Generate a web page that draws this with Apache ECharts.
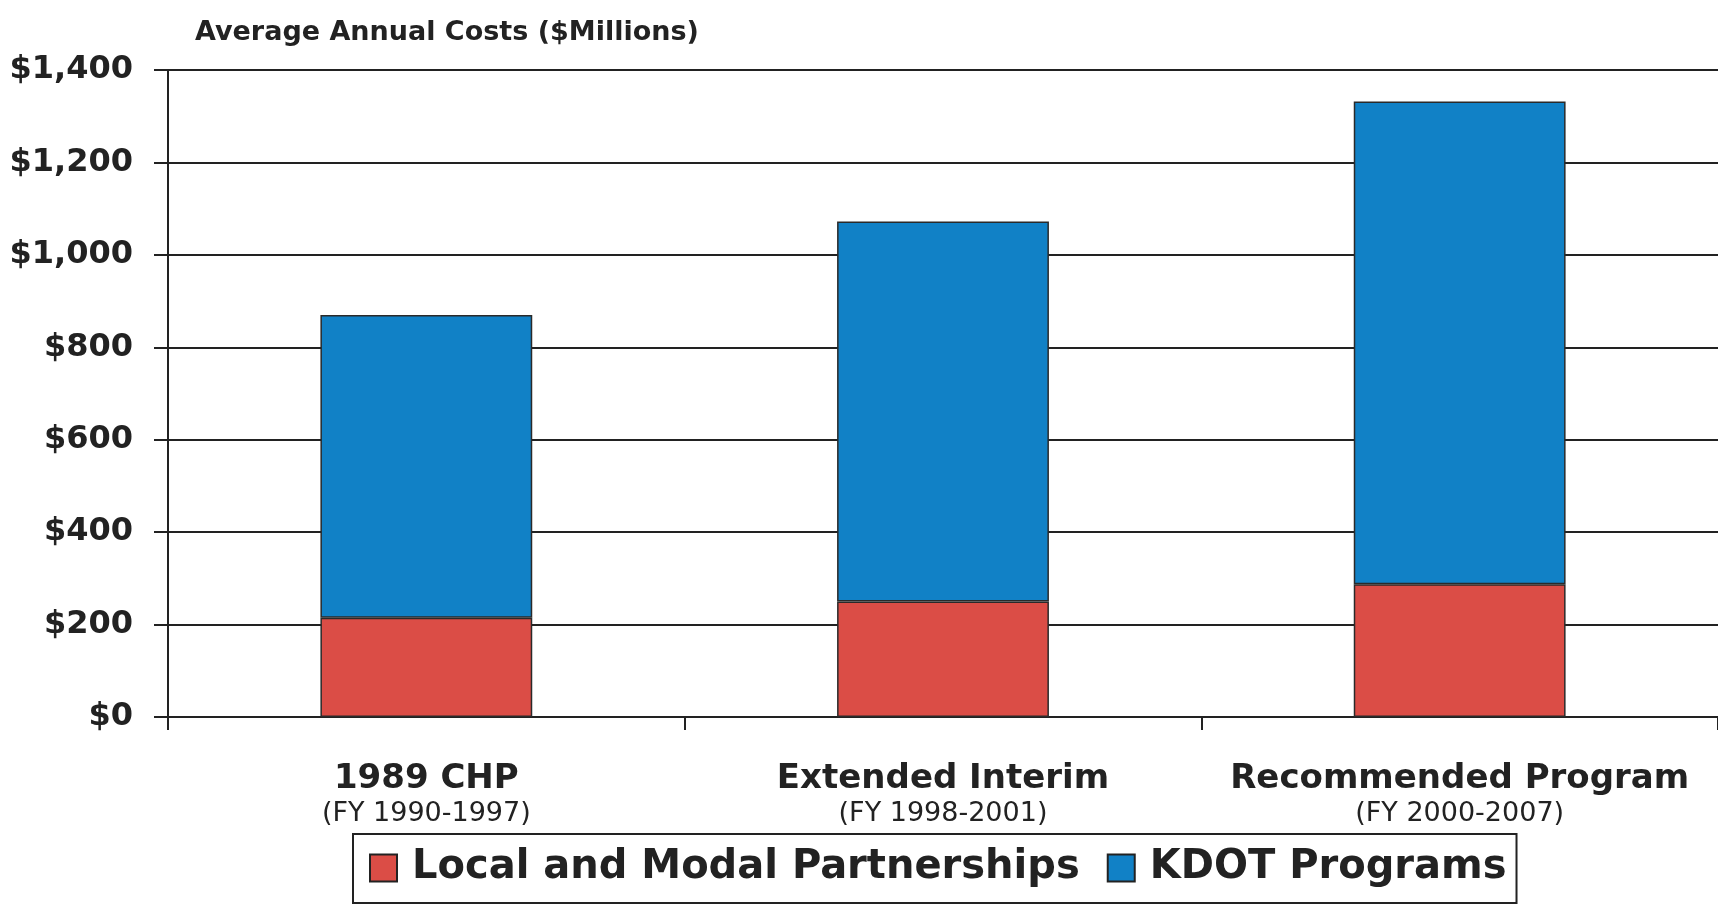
<!DOCTYPE html>
<html>
<head>
<meta charset="utf-8">
<title>Average Annual Costs</title>
<script src="https://cdn.jsdelivr.net/npm/echarts@6/dist/echarts.min.js"></script>
<style>
  html, body { margin: 0; padding: 0; background: #ffffff; }
  #chart { width: 1718px; height: 904px; }
</style>
</head>
<body>
<div id="chart"></div>
<script>
// Program names and their fiscal-year spans (two-line category labels)
const programs = ['1989 CHP', 'Extended Interim', 'Recommended Program'];
const periods = ['(FY 1990-1997)', '(FY 1998-2001)', '(FY 2000-2007)'];

// Average annual costs, $ millions
const localModal = [215, 250, 287];   // Local and Modal Partnerships
const kdotPrograms = [655, 822, 1045]; // KDOT Programs (stacked on top)

// Value axis ticks
const yMin = 0;
const yMax = 1400;
const yStep = 200;

const FONT = 'DejaVu Sans';
const INK = '#222222';

const chart = echarts.init(document.getElementById('chart'), null, { renderer: 'canvas' });

chart.setOption({
  backgroundColor: '#ffffff',
  animation: false,
  title: {
    text: 'Average Annual Costs ($Millions)',
    left: 190,
    top: 14,
    textStyle: { fontFamily: FONT, fontSize: 27, fontWeight: 'bold', color: INK }
  },
  legend: {
    data: ['Local and Modal Partnerships', 'KDOT Programs'],
    left: 353,
    top: 834,
    padding: [14, 10, 15, 16],
    borderColor: INK,
    borderWidth: 2,
    itemWidth: 27,
    itemHeight: 27,
    itemGap: 27,
    icon: 'rect',
    itemStyle: { borderColor: INK, borderWidth: 2 },
    textStyle: {
      fontFamily: FONT, fontSize: 40, fontWeight: 'bold', color: INK,
      padding: [0, 0, 0, 10]
    }
  },
  grid: { left: 168, right: -7, top: 70, bottom: 187, containLabel: false },
  xAxis: {
    type: 'category',
    data: programs.map((p, i) => p + '\n' + periods[i]),
    axisLine: { lineStyle: { color: INK, width: 2 } },
    axisTick: { show: true, length: 13, lineStyle: { color: INK, width: 2 } },
    axisLabel: {
      margin: 45,
      interval: 0,
      formatter: (v) => {
        const parts = v.split('\n');
        return '{a|' + parts[0] + '}\n{b|' + parts[1] + '}';
      },
      rich: {
        a: { fontFamily: FONT, fontSize: 34, fontWeight: 'bold', color: INK, lineHeight: 34, align: 'center' },
        b: { fontFamily: FONT, fontSize: 27, color: INK, lineHeight: 36, align: 'center' }
      }
    }
  },
  yAxis: {
    type: 'value',
    min: yMin,
    max: yMax,
    interval: yStep,
    axisLine: { show: true, lineStyle: { color: INK, width: 2 } },
    axisTick: { show: true, length: 14, lineStyle: { color: INK, width: 2 } },
    splitLine: { show: true, lineStyle: { color: INK, width: 2 } },
    axisLabel: {
      margin: 35,
      fontFamily: FONT,
      fontSize: 32,
      fontWeight: 'bold',
      color: INK,
      formatter: (v) => '$' + v.toLocaleString('en-US')
    }
  },
  series: [
    {
      name: 'Local and Modal Partnerships',
      type: 'bar',
      stack: 'cost',
      barWidth: '41%',
      data: localModal,
      itemStyle: { color: '#db4d46', borderColor: '#2a2a2a', borderWidth: 1.5 }
    },
    {
      name: 'KDOT Programs',
      type: 'bar',
      stack: 'cost',
      barWidth: '41%',
      data: kdotPrograms,
      itemStyle: { color: '#1181c6', borderColor: '#2a2a2a', borderWidth: 1.5 }
    }
  ]
});
</script>
</body>
</html>
